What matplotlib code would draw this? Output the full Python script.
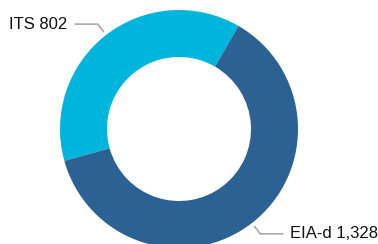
import numpy as np
import matplotlib
matplotlib.use("Agg")
import matplotlib.pyplot as plt

labels = ["ITS", "EIA-d"]
values = [802, 1328]
colors = ["#00b5dc", "#2b6193"]

W, H = 378, 244
fig = plt.figure(figsize=(W / 100, H / 100), dpi=100)
ax = fig.add_axes([0, 0, 1, 1])

cx, cy, R = 179, H - 129, 119
start = 60
wedges, _ = ax.pie(values, colors=colors, startangle=start, counterclock=True,
                   radius=R, center=(cx, cy),
                   wedgeprops=dict(width=R * 0.395, linewidth=0))
ax.set_xlim(0, W)
ax.set_ylim(0, H)
ax.set_aspect("equal")
ax.axis("off")

for w, lab, v in zip(wedges, labels, values):
    mid = np.deg2rad((w.theta1 + w.theta2) / 2)
    x0, y0 = cx + 1.03 * R * np.cos(mid), cy + 1.03 * R * np.sin(mid)
    x1, y1 = cx + 1.115 * R * np.cos(mid), cy + 1.115 * R * np.sin(mid)
    side = np.sign(np.cos(mid))
    x2 = x1 + side * 23
    ax.plot([x0, x1, x2], [y0, y1, y1], color="#aaaaaa", lw=1.2,
            solid_capstyle="butt")
    ax.text(x2 + side * 7, y1, f"{lab} {v:,}", ha="left" if side > 0 else "right",
            va="center", fontsize=12, family="Liberation Sans", color="#111111")

fig.savefig("out.png", dpi=100)
